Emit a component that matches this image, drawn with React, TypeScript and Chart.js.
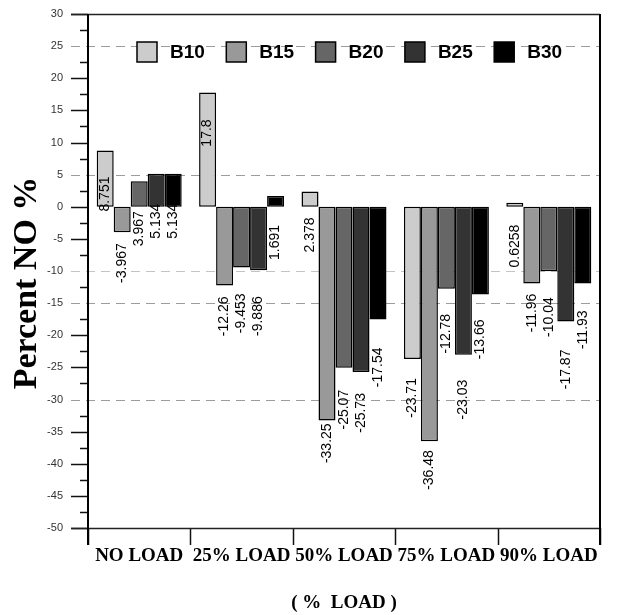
import React, { useEffect, useRef } from 'react';
import { Chart, registerables } from 'chart.js';

Chart.register(...registerables);

// Engine load conditions
const categories = ['NO LOAD', '25% LOAD', '50% LOAD', '75% LOAD', '90% LOAD'];
const seriesNames = ['B10', 'B15', 'B20', 'B25', 'B30'];

// Percent change in NO emission for each blend
const b10 = [8.751, 17.8, 2.378, -23.71, 0.6258];
const b15 = [-3.967, -12.26, -33.25, -36.48, -11.96];
const b20 = [3.967, -9.453, -25.07, -12.78, -10.04];
const b25 = [5.134, -9.886, -25.73, -23.03, -17.87];
const b30 = [5.134, 1.691, -17.54, -13.66, -11.93];

// Value axis
const yMin = -50;
const yMax = 30;
const yStep = 5;
const gridValues = [25, 5, -10, -15, -30];
const faintGridValues = [-10];

const seriesColors = ['#cccccc', '#999999', '#666666', '#333333', '#000000'];

// Distance (px) from a bar's end to the far end of its rotated value label
const LABEL_GAP = [
  [26, 27, 26, 19, 22],
  [11, 11, 3, 9, 10],
  [30, 26, 22, 25, 26],
  [30, 26, 21, 25, 28],
  [30, 29, 28, 25, 27],
];

const SANS = "'Liberation Sans', Arial, sans-serif";
const SERIF = "'Liberation Serif', 'Times New Roman', serif";

const framePlugin = {
  id: 'frame',
  beforeDatasetsDraw(chart: any) {
    const { ctx, chartArea: a, scales } = chart;
    const y = scales.y;
    ctx.save();
    ctx.setLineDash([9, 6]);
    ctx.lineWidth = 1;
    for (const v of gridValues) {
      ctx.strokeStyle = faintGridValues.includes(v) ? '#c4c4c4' : '#9c9c9c';
      const py = Math.round(y.getPixelForValue(v)) + 0.5;
      ctx.beginPath();
      ctx.moveTo(a.left - 17, py);
      ctx.lineTo(a.right, py);
      ctx.stroke();
    }
    ctx.restore();
  },
  afterDatasetsDraw(chart: any) {
    const { ctx, chartArea: a, scales } = chart;
    const x = scales.x;
    const y = scales.y;
    ctx.save();
    ctx.setLineDash([]);

    // value labels, rotated
    ctx.font = `14px ${SANS}`;
    ctx.fillStyle = '#000';
    ctx.textAlign = 'right';
    ctx.textBaseline = 'middle';
    chart.data.datasets.forEach((ds: any, di: number) => {
      const meta = chart.getDatasetMeta(di);
      meta.data.forEach((bar: any, i: number) => {
        const v = ds.data[i];
        const end = y.getPixelForValue(v);
        const zero = y.getPixelForValue(0);
        const top = (v >= 0 ? Math.min(end, zero) : Math.max(end, zero)) + LABEL_GAP[di][i];
        ctx.save();
        ctx.translate(bar.x, top);
        ctx.rotate(-Math.PI / 2);
        ctx.fillText(String(v), 0, 0);
        ctx.restore();
      });
    });

    // y ticks: major every 5, minor between
    ctx.strokeStyle = '#111';
    ctx.lineWidth = 1.5;
    for (let v = yMin; v <= yMax; v += yStep / 2) {
      const py = Math.round(y.getPixelForValue(v)) + 0.5;
      const major = v % yStep === 0;
      if (major && gridValues.includes(v)) continue;
      ctx.beginPath();
      ctx.moveTo(a.left - (major ? 17 : 8), py);
      ctx.lineTo(a.left, py);
      ctx.stroke();
    }

    // x ticks at category boundaries
    for (let i = 0; i <= categories.length; i++) {
      const px = Math.round(x.getPixelForValue(i - 0.5)) + 0.5;
      ctx.beginPath();
      ctx.moveTo(px, a.bottom);
      ctx.lineTo(px, a.bottom + 17);
      ctx.stroke();
    }

    // frame
    ctx.lineWidth = 1.5;
    ctx.strokeStyle = '#222';
    ctx.beginPath();
    ctx.moveTo(a.left - 17, a.top + 0.5);
    ctx.lineTo(a.right, a.top + 0.5);
    ctx.moveTo(a.left - 17, a.bottom + 0.5);
    ctx.lineTo(a.right, a.bottom + 0.5);
    ctx.stroke();
    ctx.lineWidth = 2;
    ctx.strokeStyle = '#000';
    ctx.beginPath();
    ctx.moveTo(a.left, a.top);
    ctx.lineTo(a.left, a.bottom + 17);
    ctx.moveTo(a.right, a.top);
    ctx.lineTo(a.right, a.bottom + 17);
    ctx.stroke();
    ctx.restore();
  },
  afterDraw(chart: any) {
    const { ctx, chartArea: a } = chart;
    ctx.save();
    // legend inside the plot
    const startX = a.left + 49;
    const pitch = 89.3;
    const boxY = 42;
    chart.data.datasets.forEach((ds: any, i: number) => {
      const bx = startX + i * pitch;
      ctx.fillStyle = ds.backgroundColor;
      ctx.fillRect(bx, boxY, 20, 20);
      ctx.lineWidth = 1.5;
      ctx.strokeStyle = '#000';
      ctx.strokeRect(bx, boxY, 20, 20);
      ctx.fillStyle = '#000';
      ctx.font = `bold 19px ${SANS}`;
      ctx.textAlign = 'left';
      ctx.textBaseline = 'middle';
      ctx.fillText(ds.label, bx + 33, boxY + 11);
    });

    // axis titles
    ctx.fillStyle = '#000';
    ctx.font = `bold 34px ${SERIF}`;
    ctx.textAlign = 'center';
    ctx.textBaseline = 'middle';
    ctx.save();
    ctx.translate(27, 283);
    ctx.rotate(-Math.PI / 2);
    ctx.fillText('Percent NO %', 0, 0);
    ctx.restore();

    ctx.font = `bold 19px ${SERIF}`;
    ctx.fillText('( %  LOAD )', (a.left + a.right) / 2, 603);
    ctx.restore();
  },
};

export default function App() {
  const canvasRef = useRef<HTMLCanvasElement | null>(null);

  useEffect(() => {
    const canvas = canvasRef.current;
    if (!canvas) return;
    const series = [b10, b15, b20, b25, b30];
    const chart = new Chart(canvas, {
      type: 'bar',
      data: {
        labels: categories,
        datasets: series.map((values, i) => ({
          label: seriesNames[i],
          data: values,
          backgroundColor: seriesColors[i],
          borderColor: '#000',
          borderWidth: 1.5,
          borderSkipped: false,
          categoryPercentage: 0.83,
          barPercentage: 1,
        })),
      },
      options: {
        responsive: false,
        animation: false,
        layout: { padding: { top: 14, right: 18, left: 0, bottom: 0 } },
        plugins: {
          legend: { display: false },
          tooltip: { enabled: false },
        },
        scales: {
          x: {
            type: 'category',
            offset: true,
            grid: { display: false, drawTicks: false },
            border: { display: false },
            ticks: {
              font: { family: SERIF, size: 19, weight: 'bold' },
              color: '#000',
              padding: 17,
              maxRotation: 0,
              autoSkip: false,
            },
            afterFit(scale: any) {
              scale.height = 87;
              scale.paddingLeft = 0;
              scale.paddingRight = 0;
            },
          },
          y: {
            min: yMin,
            max: yMax,
            grid: { display: false, drawTicks: false },
            border: { display: false },
            ticks: {
              stepSize: yStep,
              autoSkip: false,
              font: { family: SANS, size: 11 },
              color: '#333',
              padding: 25,
            },
            afterFit(scale: any) {
              scale.width = 88;
              scale.paddingTop = 0;
              scale.paddingBottom = 0;
            },
          },
        },
      },
      plugins: [framePlugin],
    });
    return () => chart.destroy();
  }, []);

  return (
    <div style={{ position: 'absolute', left: 0, top: 0, width: 618, height: 615, background: '#fff' }}>
      <canvas ref={canvasRef} width={618} height={615} />
    </div>
  );
}
